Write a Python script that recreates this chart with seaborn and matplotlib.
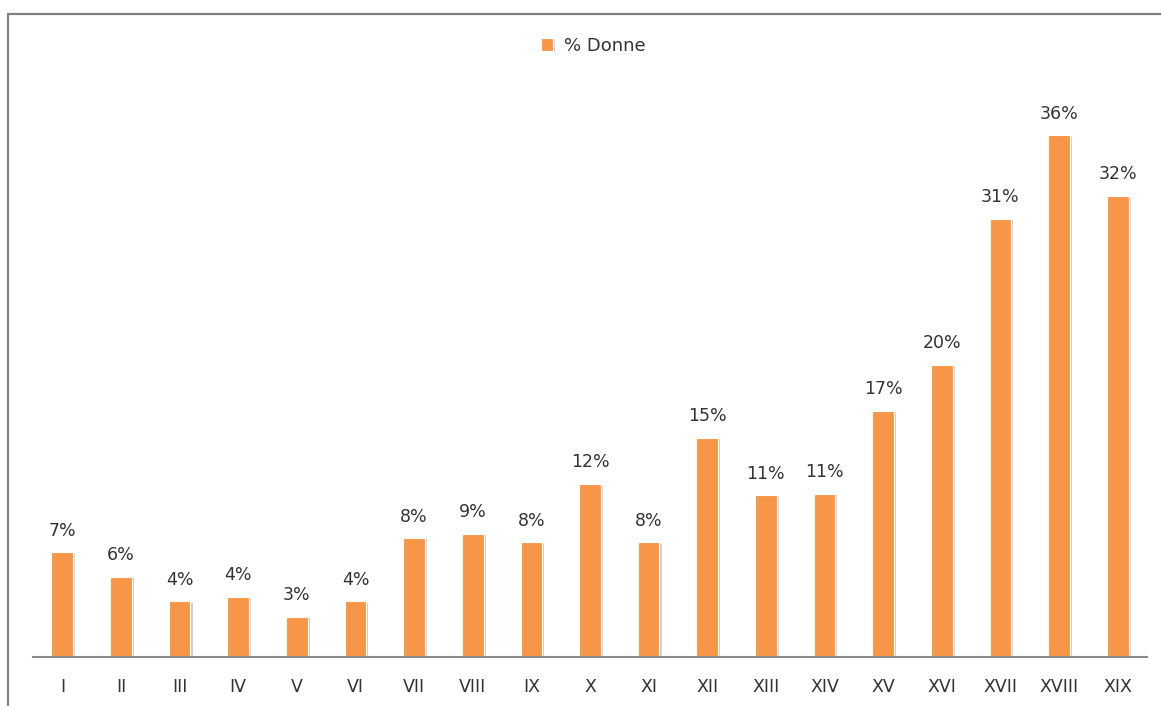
import matplotlib
matplotlib.use("Agg")
import matplotlib.pyplot as plt
import matplotlib.patheffects as pe
from matplotlib.patches import Rectangle
import pandas as pd
import seaborn as sns

sns.set_theme(style="white")
plt.rcParams["font.family"] = ["DejaVu Sans"]

secoli = ["I", "II", "III", "IV", "V", "VI", "VII", "VIII", "IX", "X",
          "XI", "XII", "XIII", "XIV", "XV", "XVI", "XVII", "XVIII", "XIX"]
perc_donne = [7.3, 5.6, 3.9, 4.2, 2.8, 3.9, 8.3, 8.6, 8.0, 12.1,
              8.0, 15.3, 11.3, 11.4, 17.2, 20.4, 30.6, 36.4, 32.2]

df = pd.DataFrame({"secolo": secoli, "perc": perc_donne})

orange = "#F79646"
text_col = "#333333"
gray = "#8a8a8a"

fig = plt.figure(figsize=(11.61, 7.06), dpi=100)
ax = fig.add_axes([33 / 1161, 1 - 657 / 706, (1147 - 33) / 1161, (657 - 80) / 706])

sns.barplot(data=df, x="secolo", y="perc", color=orange, width=0.37,
            saturation=1, label="% Donne", ax=ax)

for bar in ax.patches:
    bar.set_edgecolor("white")
    bar.set_linewidth(0.8)
    bar.set_path_effects([
        pe.SimplePatchShadow(offset=(1.5, -1), shadow_rgbFace="#a0a0a0", alpha=0.5),
        pe.Normal(),
    ])

for i, v in enumerate(perc_donne):
    ax.annotate(f"{v:.0f}%", (i, v), xytext=(0, 9), textcoords="offset points",
                ha="center", va="bottom", fontsize=12.5, color=text_col)

ax.set_xlim(-0.5, len(secoli) - 0.5)
ax.set_ylim(0, 577 / 14.33)
ax.set_xlabel("")
ax.set_ylabel("")
ax.set_yticks([])
ax.tick_params(axis="x", length=0, pad=15, labelsize=12.5, labelcolor=text_col)
for side in ["top", "left", "right"]:
    ax.spines[side].set_visible(False)
ax.spines["bottom"].set_color(gray)
ax.spines["bottom"].set_linewidth(1.5)

ax.legend(loc="center", bbox_to_anchor=(0.511, 1 - 46 / 706),
          bbox_transform=fig.transFigure, frameon=False, fontsize=13,
          handlelength=0.7, handleheight=0.7, handletextpad=0.6,
          labelcolor=text_col)

# outer chart frame (only top and left edges visible in the crop)
fig.patches.append(Rectangle((8 / 1161, -0.1), 1.2, 1.1 - 14 / 706,
                             transform=fig.transFigure, fill=False,
                             edgecolor="#808080", linewidth=1.6))

fig.savefig("out.png", dpi=100, facecolor="white")
